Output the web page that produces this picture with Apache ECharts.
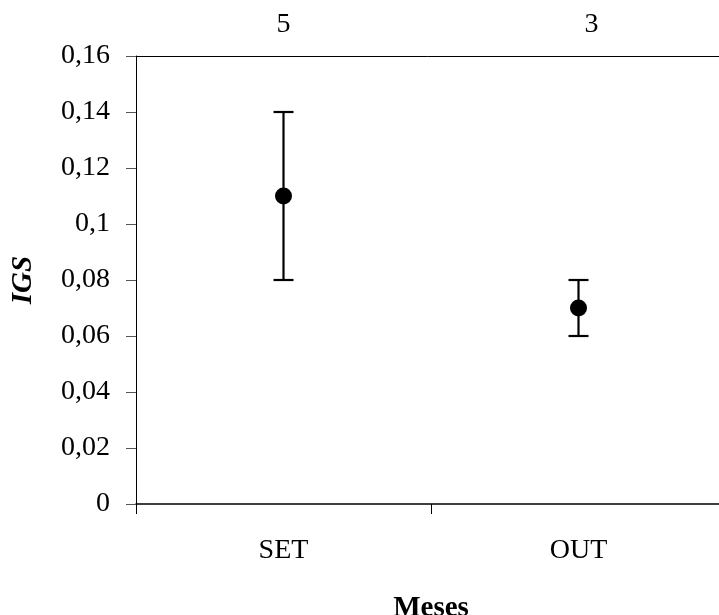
<!DOCTYPE html>
<html>
<head>
<meta charset="utf-8">
<script src="https://cdn.jsdelivr.net/npm/echarts@6/dist/echarts.min.js"></script>
<style>
html,body{margin:0;padding:0;background:#fff;}
#chart{width:719px;height:615px;}
</style>
</head>
<body>
<div id="chart"></div>
<script>
var categories = ['SET', 'OUT'];
var means = [0.11, 0.07];
var lows = [0.08, 0.06];
var highs = [0.14, 0.08];
var sampleSizes = [5, 3];
var yTicks = [0, 0.02, 0.04, 0.06, 0.08, 0.1, 0.12, 0.14, 0.16];

var FONT = '"Liberation Serif", "Times New Roman", serif';
var chart = echarts.init(document.getElementById('chart'));

var errData = categories.map(function (c, i) { return [i, lows[i], highs[i]]; });

chart.setOption({
  animation: false,
  backgroundColor: '#fff',
  grid: { left: 136, top: 56, width: 590, bottom: 111, containLabel: false, outerBoundsMode: 'none' },
  xAxis: [{
    type: 'category',
    data: categories,
    position: 'bottom',
    boundaryGap: true,
    name: 'Meses',
    nameLocation: 'middle',
    nameGap: 90,
    nameTextStyle: { fontFamily: FONT, fontSize: 29, fontWeight: 'bold', color: '#000' },
    axisLine: { show: true, lineStyle: { color: '#000', width: 1.5 } },
    axisTick: { show: true, length: 10, alignWithLabel: false, lineStyle: { color: '#000', width: 1 } },
    axisLabel: { margin: 33, fontFamily: FONT, fontSize: 28, color: '#000' },
    splitLine: { show: false }
  }, {
    type: 'category',
    data: categories,
    position: 'top',
    boundaryGap: true,
    axisLine: { show: true, lineStyle: { color: '#000', width: 1 } },
    axisTick: { show: false },
    axisLabel: {
      margin: 17,
      fontFamily: FONT, fontSize: 28, color: '#000',
      formatter: function (v, i) {
        return i === 1 ? '{r|' + sampleSizes[i] + '}' : '{n|' + sampleSizes[i] + '}';
      },
      rich: {
        n: { fontFamily: FONT, fontSize: 28, color: '#000' },
        r: { fontFamily: FONT, fontSize: 28, color: '#000', padding: [0, 0, 0, 26] }
      }
    },
    splitLine: { show: false }
  }],
  yAxis: {
    type: 'value',
    min: yTicks[0],
    max: yTicks[yTicks.length - 1],
    interval: 0.02,
    name: 'IGS',
    nameLocation: 'middle',
    nameGap: 98,
    nameTextStyle: { fontFamily: FONT, fontSize: 29, fontWeight: 'bold', fontStyle: 'italic', color: '#000' },
    axisLine: { show: true, lineStyle: { color: '#000', width: 1 } },
    axisTick: { show: true, inside: false, length: 10, lineStyle: { color: '#555', width: 1 } },
    axisLabel: {
      margin: 26,
      fontFamily: FONT, fontSize: 28, color: '#000',
      formatter: function (v) { return String(+v.toFixed(2)).replace('.', ','); }
    },
    splitLine: { show: false }
  },
  series: [{
    type: 'custom',
    xAxisIndex: 0,
    data: errData,
    renderItem: function (params, api) {
      var x = api.value(0);
      var lo = api.coord([x, api.value(1)]);
      var hi = api.coord([x, api.value(2)]);
      var hw = 10;
      var style = { stroke: '#000', lineWidth: 2.2 };
      return {
        type: 'group',
        children: [
          { type: 'line', shape: { x1: lo[0], y1: lo[1], x2: hi[0], y2: hi[1] }, style: style },
          { type: 'line', shape: { x1: lo[0] - hw, y1: lo[1], x2: lo[0] + hw, y2: lo[1] }, style: style },
          { type: 'line', shape: { x1: hi[0] - hw, y1: hi[1], x2: hi[0] + hw, y2: hi[1] }, style: style }
        ]
      };
    },
    z: 2
  }, {
    type: 'scatter',
    xAxisIndex: 0,
    data: means.map(function (m, i) { return [i, m]; }),
    symbol: 'circle',
    symbolSize: 17,
    itemStyle: { color: '#000', opacity: 1 },
    z: 3
  }]
});
</script>
</body>
</html>
